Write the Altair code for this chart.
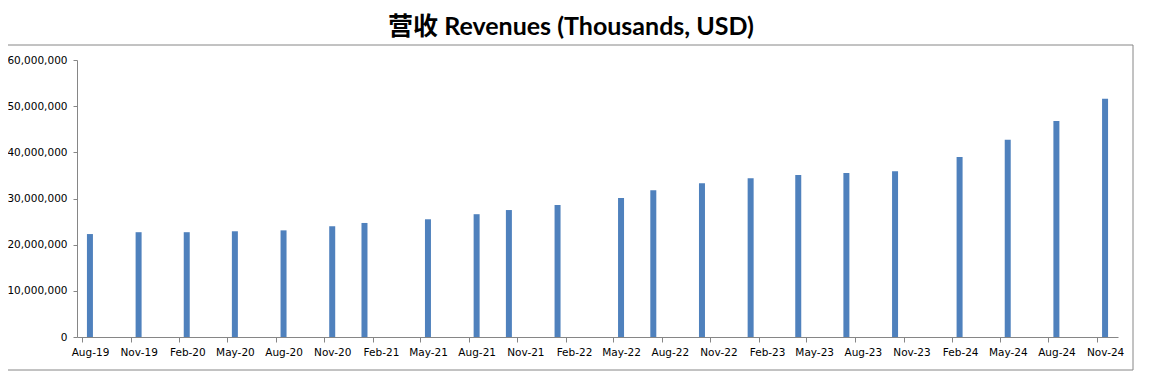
import altair as alt
import pandas as pd

# --- data ---
bar_dates = ["2019-08-16", "2019-11-16", "2020-02-15", "2020-05-16", "2020-08-16",
             "2020-11-16", "2021-01-16", "2021-05-16", "2021-08-16", "2021-10-16",
             "2022-01-16", "2022-05-16", "2022-07-16", "2022-10-16", "2023-01-16",
             "2023-04-16", "2023-07-16", "2023-10-16", "2024-02-15", "2024-05-16",
             "2024-08-16", "2024-11-16"]
revenues = [22300000, 22700000, 22700000, 22900000, 23100000,
            24000000, 24700000, 25500000, 26600000, 27500000,
            28600000, 30100000, 31800000, 33300000, 34400000,
            35100000, 35500000, 35900000, 39000000, 42700000,
            46800000, 51600000]
tick_months = [(2019, 8), (2019, 11), (2020, 2), (2020, 5), (2020, 8), (2020, 11),
               (2021, 2), (2021, 5), (2021, 8), (2021, 11), (2022, 2), (2022, 5),
               (2022, 8), (2022, 11), (2023, 2), (2023, 5), (2023, 8), (2023, 11),
               (2024, 2), (2024, 5), (2024, 8), (2024, 11)]
y_ticks = [0, 10000000, 20000000, 30000000, 40000000, 50000000, 60000000]
title_text = "营收 Revenues (Thousands, USD)"

df = pd.DataFrame({"date": bar_dates, "revenue": revenues})

FONT = "DejaVu Sans"
AXIS_GRAY = "#868686"

x_values = [alt.DateTime(year=y, month=m, date=1, utc=True) for y, m in tick_months]

bars = alt.Chart(df).mark_bar(color="#4F81BD", size=6).encode(
    x=alt.X(
        "date:T",
        scale=alt.Scale(
            type="utc",
            domain=[alt.DateTime(year=2019, month=8, date=1, utc=True),
                    alt.DateTime(year=2024, month=12, date=1, utc=True)],
            nice=False,
        ),
        axis=alt.Axis(
            values=x_values,
            labelExpr="utcFormat(datum.value, '%b-%y')",
            labelOffset=8,
            labelFont=FONT,
            labelFontSize=10.5,
            labelColor="#000000",
            labelPadding=5,
            labelOverlap=False,
            labelFlush=False,
            tickColor=AXIS_GRAY,
            tickSize=5,
            domainColor=AXIS_GRAY,
            grid=False,
            title=None,
        ),
    ),
    y=alt.Y(
        "revenue:Q",
        scale=alt.Scale(domain=[0, 60000000], nice=False),
        axis=alt.Axis(
            values=y_ticks,
            format=",d",
            labelFont=FONT,
            labelFontSize=10.5,
            labelColor="#000000",
            labelPadding=6,
            tickColor=AXIS_GRAY,
            tickSize=4,
            domainColor=AXIS_GRAY,
            grid=False,
            title=None,
        ),
    ),
)

title = alt.Chart(pd.DataFrame({"t": [title_text]})).mark_text(
    font="Lato, Noto Sans CJK SC", fontSize=25, fontWeight="bold",
    align="center", baseline="alphabetic", color="#000000",
).encode(x=alt.value(494), y=alt.value(-25), text="t:N")

frame_df = pd.DataFrame({"k": [0]})
frame_top = alt.Chart(frame_df).mark_rule(color=AXIS_GRAY, strokeWidth=1).encode(
    x=alt.value(-80), x2=alt.value(1056), y=alt.value(-15))
frame_bottom = alt.Chart(frame_df).mark_rule(color=AXIS_GRAY, strokeWidth=1).encode(
    x=alt.value(-80), x2=alt.value(1056), y=alt.value(310))
frame_right = alt.Chart(frame_df).mark_rule(color=AXIS_GRAY, strokeWidth=1).encode(
    x=alt.value(1056), y=alt.value(-15), y2=alt.value(310))

chart = alt.layer(frame_top, frame_bottom, frame_right, bars, title).properties(
    width=1041,
    height=277,
    autosize=alt.AutoSizeParams(type="none"),
    padding={"left": 69, "top": 52, "right": 20, "bottom": 40},
).configure_view(stroke=None)

chart.save("out.html", embed_options={"renderer": "svg", "actions": False})
